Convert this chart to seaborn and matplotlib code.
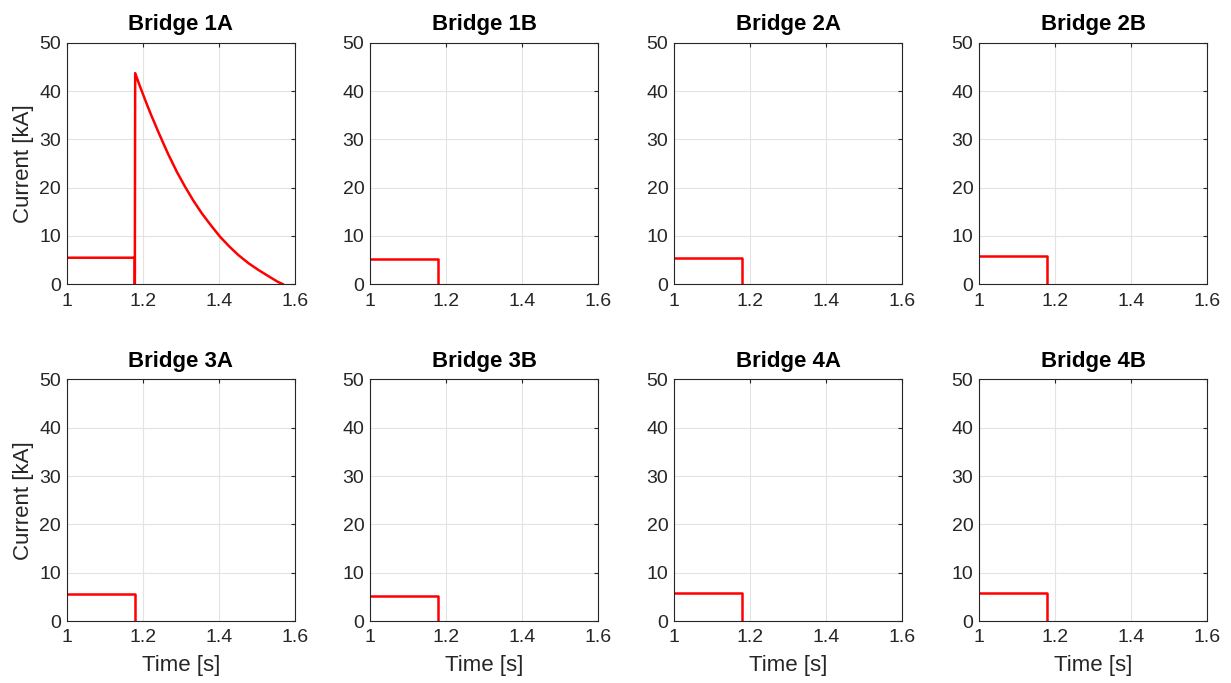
import numpy as np
import pandas as pd
import matplotlib
matplotlib.use("Agg")
import matplotlib.pyplot as plt
import seaborn as sns

# Bridge currents during the fault sequence
bridges = ["Bridge 1A", "Bridge 1B", "Bridge 2A", "Bridge 2B",
           "Bridge 3A", "Bridge 3B", "Bridge 4A", "Bridge 4B"]
# steady current before the trip [kA]
pre_trip_level = [5.5, 5.2, 5.5, 5.85, 5.5, 5.2, 5.7, 5.85]
trip_time = 1.18  # s

# Bridge 1A carries the discharge after the trip
decay_time = [1.180, 1.190, 1.206, 1.220, 1.241, 1.255, 1.267, 1.290, 1.311,
              1.333, 1.355, 1.380, 1.403, 1.427, 1.451, 1.478, 1.504, 1.535,
              1.555, 1.569]
decay_current = [43.7, 41.5, 38.2, 35.4, 31.5, 29.0, 26.9, 23.2, 20.2,
                 17.3, 14.7, 12.1, 9.85, 7.85, 6.06, 4.35, 2.96, 1.45,
                 0.5, 0.0]

x_ticks = [1.0, 1.2, 1.4, 1.6]
x_tick_labels = ["1", "1.2", "1.4", "1.6"]
y_ticks = [0, 10, 20, 30, 40, 50]
y_tick_labels = ["0", "10", "20", "30", "40", "50"]

sns.set_theme(style="white")
plt.rcParams["font.family"] = ["Liberation Sans", "DejaVu Sans"]
ink = "#262626"

fig = plt.figure(figsize=(12.31, 6.83), dpi=100)
W, H = 1231.0, 683.0
col_left = [66.7, 370.0, 674.0, 979.0]
row_bottom = [284.3, 621.0]
ax_w, ax_h = 228.3, 241.6

for i, name in enumerate(bridges):
    r, c = divmod(i, 4)
    ax = fig.add_axes([col_left[c] / W, 1 - row_bottom[r] / H, ax_w / W, ax_h / H])
    level = pre_trip_level[i]
    t = [1.0, trip_time - 0.001, trip_time - 0.001, trip_time]
    cur = [level, level, 0.0, 0.0]
    if i == 0:
        t = t[:-1] + decay_time
        cur = cur[:-1] + decay_current
    df = pd.DataFrame({"t": t, "I": cur})
    sns.lineplot(data=df, x="t", y="I", sort=False, estimator=None,
                 color="#ff0000", linewidth=1.8, ax=ax)

    ax.set_xlim(1.0, 1.6)
    ax.set_ylim(0, 50)
    ax.set_xticks(x_ticks)
    ax.set_xticklabels(x_tick_labels)
    ax.set_yticks(y_ticks)
    ax.set_yticklabels(y_tick_labels)
    ax.grid(True, color="#e3e3e3", linewidth=0.8)
    ax.set_axisbelow(True)
    for sp in ax.spines.values():
        sp.set_color(ink)
        sp.set_linewidth(0.8)
        sp.set_visible(True)
    ax.tick_params(direction="in", length=3, width=0.8, colors=ink,
                   labelsize=14, top=True, right=True)
    ax.tick_params(axis="x", pad=6)
    ax.tick_params(axis="y", pad=4)
    ax.set_title(name, fontsize=16, fontweight="bold", color="black", pad=9)
    ax.set_xlabel("Time [s]" if r == 1 else "", fontsize=16, color=ink, labelpad=6)
    ax.set_ylabel("Current [kA]" if c == 0 else "", fontsize=16, color=ink, labelpad=4)

fig.savefig("out.png", dpi=100, facecolor="white")
